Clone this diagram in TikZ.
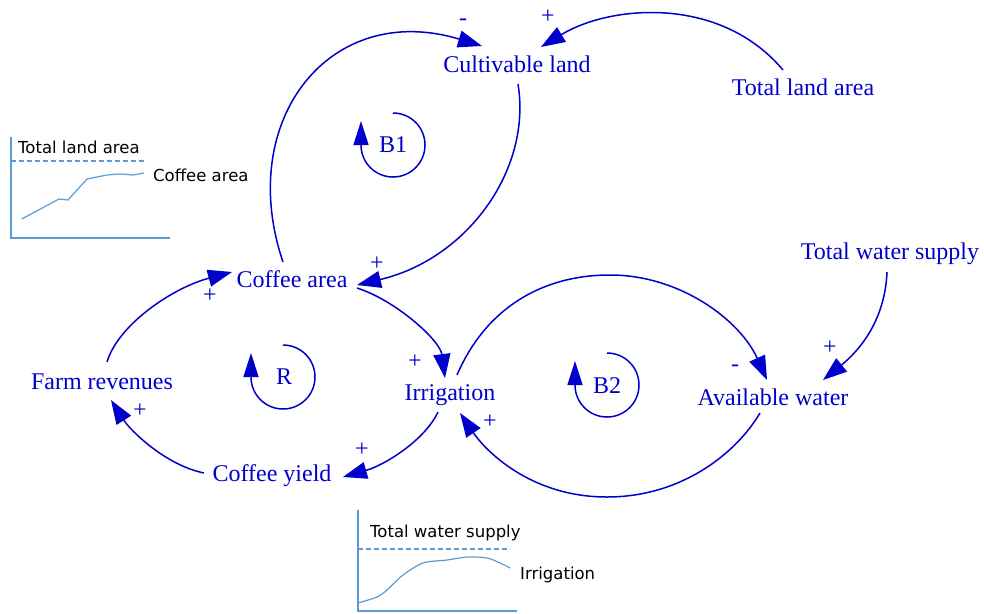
\documentclass[tikz,border=0pt]{standalone}
\usepackage{fontspec}
\setmainfont{Liberation Serif}
\newfontfamily\chartfont{DejaVu Sans}
\usetikzlibrary{arrows.meta}
\definecolor{cldblue}{RGB}{0,0,204}
\definecolor{chartblue}{RGB}{91,155,213}
\begin{document}
\begin{tikzpicture}[x=1pt,y=-1pt,
  var/.style={text=cldblue, font=\fontsize{24}{28}\selectfont, inner sep=0pt},
  sign/.style={text=cldblue, font=\fontsize{24}{26}\selectfont, inner sep=0pt},
  link/.style={draw=cldblue, line width=1.5pt, -{Triangle[length=24pt,width=17pt]}},
  looparc/.style={draw=cldblue, line width=1.5pt, -{Triangle[length=24pt,width=15pt]}},
  axisline/.style={draw=chartblue, line width=1.2pt},
  limitline/.style={draw=chartblue, line width=1.2pt, dash pattern=on 5pt off 3pt},
  series/.style={draw=chartblue, line width=1.2pt},
  chartlbl/.style={text=black, font=\chartfont\fontsize{16.5}{19}\selectfont, inner sep=0pt, anchor=west}]
\useasboundingbox (0,0) rectangle (984,613);

% variables
\node[var] (cl)  at (517,64)  {Cultivable land};
\node[var] (tla) at (803,87)  {Total land area};
\node[var] (ca)  at (292,279) {Coffee area};
\node[var] (tws) at (890,254) {Total water supply};
\node[var] (fr)  at (102,382) {Farm revenues};
\node[var] (ir)  at (450,395) {Irrigation};
\node[var] (aw)  at (773,397) {Available water};
\node[var] (cy)  at (272,476) {Coffee yield};

% causal links
\draw[link] ([shift={(-9,-17)}]ca.center) .. controls (235,120) and (330,0) .. ([shift={(-35,-18)}]cl.center);
\draw[link] ([shift={(-20,-17)}]tla.center) .. controls (720,-5) and (610,5) .. ([shift={(24,-17)}]cl.center);
\draw[link] ([shift={(1,20)}]cl.center) .. controls (532,170) and (467,259) .. ([shift={(65,6)}]ca.center);
\draw[link] ([shift={(5,-20)}]fr.center) .. controls (118,325) and (172,288) .. ([shift={(-60,-7)}]ca.center);
\draw[link] ([shift={(65,9)}]ca.center) .. controls (395,300) and (440,340) .. ([shift={(-5,-17)}]ir.center);
\draw[link] ([shift={(-12,17)}]ir.center) .. controls (425,440) and (385,465) .. ([shift={(71,1)}]cy.center);
\draw[link] ([shift={(-68,-3)}]cy.center) .. controls (165,465) and (130,430) .. ([shift={(9,18)}]fr.center);
\draw[link] ([shift={(7,-20)}]ir.center) .. controls (485,310) and (540,275) .. (610,275)
            .. controls (680,275) and (740,320) .. ([shift={(-6,-17)}]aw.center);
\draw[link] ([shift={(-13,16)}]aw.center) .. controls (735,455) and (680,497) .. (607,497)
            .. controls (530,497) and (485,450) .. ([shift={(10,18)}]ir.center);
\draw[link] ([shift={(-3,18)}]tws.center) .. controls (885,320) and (860,350) .. ([shift={(50,-17)}]aw.center);

% link polarities
\node[sign] (s1)  at (463,22)  {-};
\node[sign] (s2)  at (548,17)  {+};
\node[sign] (s3)  at (377,264) {+};
\node[sign] (s4)  at (210,296) {+};
\node[sign] (s5)  at (415,362) {+};
\node[sign] (s6)  at (362,450) {+};
\node[sign] (s7)  at (140,411) {+};
\node[sign] (s8)  at (735,368) {-};
\node[sign] (s9)  at (490,422) {+};
\node[sign] (s10) at (830,348) {+};

% loop markers
\draw[looparc] (393,113) arc[start angle=-90, end angle=180, radius=32] -- ++(0,-24);
\node[var] (b1) at (393,145) {B1};
\draw[looparc] (283,345) arc[start angle=-90, end angle=180, radius=32] -- ++(0,-24);
\node[var] (r) at (284,377) {R};
\draw[looparc] (607,353) arc[start angle=-90, end angle=180, radius=32] -- ++(0,-24);
\node[var] (b2) at (607,386) {B2};

% reference mode: coffee area
\draw[axisline] (11,137) -- (11,238) -- (170,238);
\draw[limitline] (11,161) -- (146,161);
\draw[series] (21.7,219) -- (33,213) -- (59,199) -- (68,200) -- (87,179) -- (107,175) -- (120,174) -- (133,175) -- (144,173);
\node[chartlbl] (g1a) at (18,147) {Total land area};
\node[chartlbl] (g1b) at (153,175) {Coffee area};

% reference mode: irrigation
\draw[axisline] (358,510) -- (358,611) -- (517,611);
\draw[limitline] (358,549) -- (510,549);
\draw[series] plot[smooth] coordinates {(358,603) (377,597) (387,590) (403,575) (423,563) (447,560) (467,557) (487,558) (500,563) (510,568)};
\node[chartlbl] (g2a) at (370,533) {Total water supply};
\node[chartlbl] (g2b) at (520,575) {Irrigation};
\end{tikzpicture}
\end{document}
